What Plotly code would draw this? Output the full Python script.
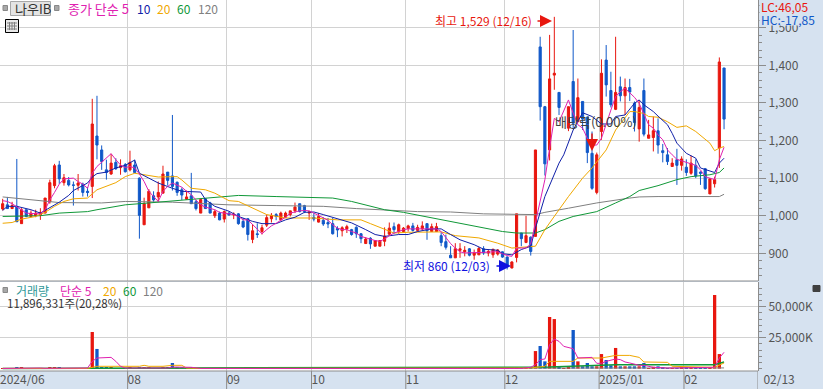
import plotly.graph_objects as go

highs = [1045,1050,1037,1151,1020,1016,1014,1016,1020,1047,1096,1138,1146,1111,1103,1091,1111,1088,1076,1311,1319,1187,1149,1165,1153,1150,1140,1173,1149,1102,1048,1071,1065,1091,1133,1116,1268,1091,1075,1067,1114,1042,1045,1047,1037,1016,1011,1014,1011,1009,1007,994,994,978,980,976,1003,1007,
1007,1011,1011,1013,1035,1032,1029,1013,1007,1007,996,994,994,972,972,976,965,972,954,943,943,934,934,969,982,982,979,970,976,981,976,985,979,979,981,956,950,919,927,927,919,914,910,917,919,910,911,911,905,892,879,1005,
954,1000,945,1175,1476,1292,1481,1529,1328,None,1290,1494,1365,1304,1264,1224,1168,1416,1454,1383,1476,1370,1365,1364,1304,1308,1365,1255,1264,1259,1191,1180,1153,1178,1158,1150,1160,1150,1118,1127,1100,1104,1421,1393]
opens = [1018,1029,1019,1025,979,1016,998,1000,1002,1007,1037,1080,1135,1088,1094,1082,1081,1084,1065,1078,1212,1175,1122,1111,1142,1128,1136,1122,1135,1100,976,1021,1053,1050,1060,1116,1106,1089,1069,1044,1053,1037,1007,1045,1034,1000,1007,991,1007,1002,1005,985,992,937,952,958,975,992,
1003,989,996,1003,1013,1032,1027,1007,996,983,988,982,979,966,960,965,963,969,952,926,940,919,919,932,951,971,958,958,966,973,961,965,979,958,958,947,931,895,888,908,904,912,895,896,912,901,896,898,904,890,861,889,
954,929,943,945,1449,1290,1175,1374,1328,None,1233,1357,1250,1304,1262,1166,1062,1224,1414,1333,1283,1343,1319,1341,1299,1231,1333,1206,1208,1226,1173,1162,1131,1149,1134,1129,1113,1134,1116,1125,1058,1085,1180,1393]
closes = [1032,1019,1027,984,1016,998,1007,1007,1009,1047,1088,1133,1098,1101,1082,1081,1087,1062,1062,1244,1188,1144,1115,1140,1125,1133,1117,1142,1115,1001,1032,1065,1042,1062,1111,1094,1078,1062,1055,1050,1032,1019,1043,1019,1007,1011,989,1011,1002,1004,979,970,950,960,950,968,995,1001,
998,1007,1007,1013,1023,1011,1011,1010,991,998,978,978,952,962,968,971,950,952,939,938,925,934,934,946,967,963,976,967,973,961,969,973,960,971,971,929,916,888,912,912,908,895,901,913,901,905,911,909,890,867,877,1005,
939,947,905,1175,1290,1138,1364,1379,1288,None,1290,1246,1314,1257,1168,1073,1162,1379,1348,1295,1328,1319,1341,1329,1248,1288,1217,1215,1226,1188,1168,1144,1140,1134,1151,1115,1140,1106,1113,1072,1098,1096,1409,1257]
lows = [1014,1018,1018,984,979,996,996,996,989,1007,1032,1073,1085,1080,1078,1027,1067,1051,1051,1047,1150,1122,1096,1109,1122,1109,1115,1118,1113,939,976,1021,1037,1037,1060,1080,1067,1053,1042,1042,1032,1014,1007,1018,1007,994,988,982,1000,991,976,967,934,927,941,950,970,982,
988,988,994,998,1007,1009,1007,989,985,982,973,967,950,943,945,954,947,941,927,926,912,919,919,919,947,952,952,956,958,958,958,961,936,958,957,919,910,888,888,888,892,892,883,896,896,892,888,894,888,857,860,876,
919,927,894,945,1253,1107,1147,1335,1268,None,1225,1230,1250,1228,1140,1069,1057,1202,1317,1288,1281,1304,1268,1305,1224,1197,1211,1206,1171,1165,1142,1135,1131,1082,1120,1106,1109,1100,1082,1069,1058,1075,1127,1230]
volumes = [300,300,400,1300,700,400,400,300,300,500,700,1000,600,500,300,400,300,500,400,29600,15900,1300,800,800,500,500,400,700,400,1000,800,700,500,400,800,900,4600,1400,800,500,1000,400,
400,300,400,300,400,300,400,300,300,400,
300,400,300,300,300,300,400,300,300,400,
300,300,400,300,300,300,300,400,300,300,
300,400,300,300,300,300,300,300,400,300,
300,300,300,400,300,300,300,300,300,300,
400,300,300,300,300,300,300,400,300,300,
300,300,400,500,500,600,700,
1300,400,600,800,14200,18300,5900,41700,40000,1100,540,1100,31200,5900,1900,4600,1900,1900,11800,7000,2700,16700,1900,1900,1900,1900,1900,4600,540,1500,1900,1100,540,540,540,700,700,700,700,800,1100,1100,59400,11800]

ma5_x = list(range(154))
ma5 = [1040,1038,1032,1023,1015,1007,1006,1005,1005,1016,1042,1062,1084,1098,1100,1100,1091,1084,1073,1113,1131,1142,1153,1165,1149,1135,1128,1131,1127,1111,1091,1065,1051,1038,1065,1078,1087,1082,1076,1065,1056,1042,1029,1023,1020,1016,1009,1007,1003,1003,998,989,989,976,963,952,963,973,
980,988,996,1007,1011,1013,1014,1013,1007,1000,994,988,976,967,963,963,958,954,945,941,936,934,932,938,947,954,958,963,965,965,965,965,965,965,965,958,941,926,914,904,901,901,901,901,903,903,904,904,899,894,892,914,914,914,925,981,1042,1096,1180,1259,1250,1277,1308,1273,1242,1233,1206,1188,1188,1206,1246,1281,1317,1330,1339,1326,1315,1299,1268,1242,1233,1215,1202,1175,1162,1150,1146,1142,1138,1134,1122,1104,1100,1096,1149,1182]
ma10_x = [0,1,3,6,8,9,11,12,14,15,18,19,20,22,24,26,28,29,31,33,36,38,42,43,45,48,50,53,55,58,60,62,64,66,68,71,74,77,79,81,84,86,88,91,93,95,97,100,102,105,106,108,110,112,113,115,118,119,121,123,125,127,129,130,132,134,135,136,138,139,141,142,143,145,147,148,150,151,152,153]
ma10 = [1014,1025,1025,1016,1007,1014,1027,1036,1054,1067,1087,1103,1112,1116,1127,1134,1148,1113,1100,1087,1073,1065,1063,1043,1025,1012,998,985,979,979,989,996,1009,1010,1003,991,981,963,950,945,950,950,958,965,965,950,936,923,911,908,899,896,910,919,967,1051,1140,1162,1228,1274,1264,1244,1244,1264,1268,1299,1308,1295,1277,1265,1242,1219,1193,1166,1153,1127,1118,1115,1140,1153]
ma20_x = [0,2,4,7,9,11,13,15,18,20,24,26,28,31,33,37,38,40,43,45,48,50,53,56,60,66,71,76,78,81,83,86,90,93,96,101,105,108,113,115,118,120,123,125,128,130,133,134,136,137,139,141,143,145,147,150,151,152,153]
ma20 = [980,982,991,998,1009,1025,1038,1045,1047,1069,1088,1104,1113,1107,1103,1104,1095,1073,1069,1060,1040,1038,1020,1003,994,994,989,989,979,963,954,956,957,957,947,941,927,914,919,963,1016,1051,1100,1127,1175,1228,1277,1277,1272,1264,1262,1250,1235,1239,1224,1193,1173,1180,1184]
ma60_x = [0,8,12,18,20,23,26,31,35,39,43,48,50,58,62,70,74,77,81,85,91,96,102,106,109,113,115,118,121,126,130,133,135,139,143,146,150,152,153]
ma60 = [998,1000,1007,1011,1016,1023,1029,1034,1038,1042,1047,1051,1054,1051,1049,1047,1038,1029,1016,1009,994,981,967,958,954,954,963,985,998,1011,1034,1051,1067,1080,1096,1104,1109,1115,1127]
ma120_x = [0,4,7,12,21,26,36,39,48,58,68,75,82,88,95,102,113,115,120,126,133,135,139,152,153]
ma120 = [1050,1045,1042,1035,1034,1038,1036,1034,1029,1027,1025,1019,1015,1011,1010,1005,1003,1009,1020,1034,1047,1050,1051,1051,1057]

v5_x = [0,3,8,9,18,19,20,23,24,25,26,35,36,40,42,110,112,113,114,115,116,117,118,119,121,122,123,125,126,127,128,130,131,132,133,135,136,138,141,151,152,153]
v5 = [200,540,540,300,540,5900,8600,9100,5900,1900,540,540,1300,1100,200,200,1100,3200,7300,7800,19300,23900,22000,18000,16100,8600,8600,9100,4300,4300,5900,7800,7300,5400,4600,2700,2700,1100,540,1100,8600,13200]
v20_x = [0,18,20,29,30,31,34,36,38,39,42,112,115,116,121,122,127,130,133,135,136,141,142,151,153]
v20 = [200,200,1900,1900,2700,1900,1900,2700,2700,540,200,540,1900,5900,5900,8600,8600,10700,10700,9100,5400,5100,1900,1100,4600]
v60_x = [0,116,130,151,153]
v60 = [200,1300,3200,3200,5400]
v120_x = [0,153]
v120 = [100,600]

price_ticks = [900,1000,1100,1200,1300,1400,1500]
vol_ticks = [25000,50000]
vol_tick_labels = ["25,000K","50,000K"]
month_pos = [-0.566,26.5,47.5,65.5,85.5,106.5,126.5,144.5,160.2]
month_labels = ["2024/06","08","09","10","11","12","2025/01","02","\u00a0\u00a002/13"]

RED="#E8170F"; BLUE="#1058C8"; MAG="#E020B0"; NAVY="#1020A8"; ORG="#F0A800"; GRN="#109838"; GRY="#808080"
BAND="#D6E2F0"; GRID="#D2D2D2"; AXIS="#8C8C8C"
FONT="Noto Sans CJK KR"
W,H=758,371

fig=go.Figure()
fig.add_trace(go.Candlestick(x=list(range(154)),open=opens,high=highs,low=lows,close=closes,
    increasing=dict(line=dict(color=RED,width=1),fillcolor=RED),
    decreasing=dict(line=dict(color=BLUE,width=1),fillcolor=BLUE),whiskerwidth=0,yaxis="y",showlegend=False))
for xs,ys,c in [(ma120_x,ma120,GRY),(ma60_x,ma60,GRN),(ma20_x,ma20,ORG),(ma10_x,ma10,NAVY),(ma5_x,ma5,MAG)]:
    fig.add_trace(go.Scatter(x=xs,y=ys,mode="lines",line=dict(color=c,width=1),yaxis="y",showlegend=False))
bar_colors=[BLUE if (o is not None and c<o) else RED for o,c in zip(opens,closes)]
fig.add_trace(go.Bar(x=list(range(154)),y=volumes,yaxis="y2",showlegend=False,
    marker=dict(color=bar_colors,line=dict(width=0))))
for xs,ys,c,wd in [(v120_x,v120,GRY,1),(v60_x,v60,GRN,1.5),(v20_x,v20,ORG,1),(v5_x,v5,MAG,1)]:
    fig.add_trace(go.Scatter(x=xs,y=ys,mode="lines",line=dict(color=c,width=wd),yaxis="y2",showlegend=False))

def px(x): return x/W
def py(y): return 1-y/H
ann=[]
def text(x,y,t,c,size=13,anchor="left",**kw):
    ann.append(dict(x=px(x),y=py(y),xref="paper",yref="paper",text=t,showarrow=False,xanchor=anchor,yanchor="middle",
        font=dict(family=FONT,size=size,color=c),**kw))
text(13,8,"나우IB","#333333",13)
text(66,8,"종가 단순 5",MAG,13)
text(135,8,"10",NAVY,12)
text(155,8,"20",ORG,12)
text(175,8,"60",GRN,12)
text(196,8,"120",GRY,12)
text(14,290,"거래량","#309898",12)
text(58,290,"단순 5",MAG,12)
text(101,290,"20",ORG,12)
text(121,290,"60",GRN,12)
text(141,290,"120",GRY,12)
text(5,303,"11,896,331주(20,28%)","#333333",11.5)
text(433,20,"최고 1,529 (12/16)",RED,12)
text(401,265,"최저 860 (12/03)","#1010E0",12)
text(553,122,"배당락(0.00%)","#404040",13)
# right header, over the clipped 1,500 tick label
ann.append(dict(x=759/W,y=py(12),xref="paper",yref="paper",xanchor="left",yanchor="middle",showarrow=False,text=" ",
    width=63,height=24,bgcolor=BAND))
ann.append(dict(x=759/W,y=py(7),xref="paper",yref="paper",xanchor="left",yanchor="middle",showarrow=False,text="LC:46,05",font=dict(family=FONT,size=12,color=RED)))
ann.append(dict(x=759/W,y=py(19),xref="paper",yref="paper",xanchor="left",yanchor="middle",showarrow=False,text="HC:-17,85",font=dict(family=FONT,size=12,color=BLUE)))
def arrow(x0,y0,x1,y1,c):
    ann.append(dict(x=px(x1),y=py(y1),ax=x0-x1,ay=y0-y1,xref="paper",yref="paper",axref="pixel",ayref="pixel",text="",
        showarrow=True,arrowhead=2,arrowsize=1.6,arrowwidth=1.5,arrowcolor=c))
arrow(536,21,552,21,RED)
arrow(495,266,511,266,"#1010E0")
arrow(592,132,592,151,RED)

shapes=[]
for p in month_pos[1:]:
    shapes.append(dict(type="line",xref="x",yref="paper",x0=p,x1=p,y0=0,y1=-18/H,line=dict(color=AXIS,width=1)))
shapes.append(dict(type="line",xref="paper",yref="paper",x0=0,x1=1,y0=py(281),y1=py(281),line=dict(color=AXIS,width=1)))
shapes.append(dict(type="line",xref="paper",yref="paper",x0=0,x1=1,y0=0,y1=0,line=dict(color=AXIS,width=1)))
# legend chips and icon
def rect(x0,y0,x1,y1,fill,line="#888888",w=1,layer="above"):
    shapes.append(dict(type="rect",xref="paper",yref="paper",x0=px(x0),x1=px(x1),y0=py(y0),y1=py(y1),fillcolor=fill,line=dict(color=line,width=w),layer=layer))
rect(3,5.5,7.5,10.5,"#A8A8A8")
rect(54.5,5.5,59,10.5,"#A8A8A8")
rect(3,287.5,7.5,292.5,"#A8A8A8")
rect(10.5,1.5,50.5,15.5,"#E4E4E4","#A8A8A8")
rect(5.5,19.5,18.5,32.5,"#E8E8E8","#000000")
for g in (9.5,12,14.5):
    shapes.append(dict(type="line",xref="paper",yref="paper",x0=px(g),x1=px(g),y0=py(22),y1=py(30),line=dict(color="#808080",width=1)))
for g in (23,26,29):
    shapes.append(dict(type="line",xref="paper",yref="paper",x0=px(7),x1=px(17),y0=py(g),y1=py(g),line=dict(color="#808080",width=1)))
rect(813,285.5,820,291.5,"#404040","#404040")
fig.update_layout(
    width=823,height=389,autosize=False,margin=dict(l=0,r=65,t=0,b=18),
    paper_bgcolor=BAND,plot_bgcolor="white",showlegend=False,
    boxgap=0.35,bargap=0.3,
    font=dict(family=FONT,size=12,color="#555555"),
    xaxis=dict(range=[-0.566,160.2],tickmode="array",tickvals=month_pos,ticktext=month_labels,ticklabelposition="outside right",
        showgrid=True,gridcolor=GRID,gridwidth=1,zeroline=False,showline=False,rangeslider=dict(visible=False),ticks="",
        tickfont=dict(family=FONT,size=12,color="#555555"),anchor="free",position=0),
    yaxis=dict(domain=[90/H,1],range=[826.4,1573.8],side="right",tickmode="array",tickvals=price_ticks,tickformat=",",
        showgrid=True,gridcolor=GRID,gridwidth=1,zeroline=False,showline=True,linecolor=AXIS,ticks="outside",ticklen=7,tickcolor=AXIS,
        minor=dict(dtick=20,ticks="outside",ticklen=3,tickcolor=AXIS,showgrid=False),tickfont=dict(family=FONT,size=12,color="#555555")),
    yaxis2=dict(domain=[0,89/H],range=[-1880,69900],side="right",tickmode="array",tickvals=vol_ticks,ticktext=vol_tick_labels,
        showgrid=True,gridcolor=GRID,gridwidth=1,zeroline=False,showline=True,linecolor=AXIS,ticks="outside",ticklen=7,tickcolor=AXIS,
        minor=dict(dtick=5000,ticks="outside",ticklen=3,tickcolor=AXIS,showgrid=False),tickfont=dict(family=FONT,size=12,color="#555555")),
    annotations=ann,shapes=shapes,
)
fig.write_html("out.html",config={"displayModeBar":False},post_script="document.body.style.margin='0';document.documentElement.style.overflow='hidden';")
